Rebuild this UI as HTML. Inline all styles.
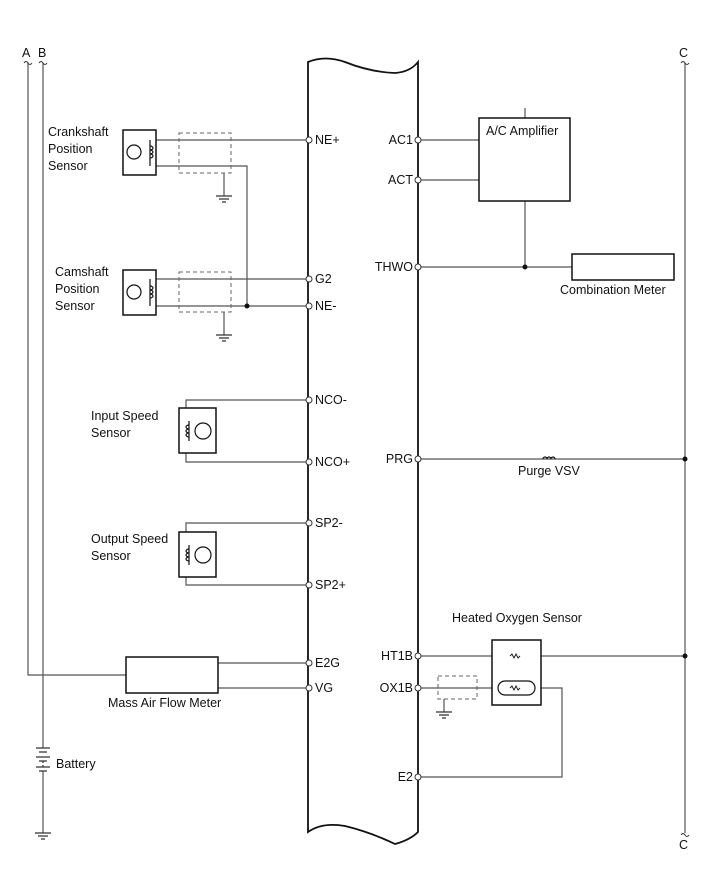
<!DOCTYPE html>
<html><head><meta charset="utf-8"><style>
html,body{margin:0;padding:0;background:#fff;}
svg{display:block;}
text{font-family:"Liberation Sans",Arial,sans-serif;font-size:12.5px;fill:#111;}
</style></head><body>
<svg width="719" height="882" viewBox="0 0 719 882" xmlns="http://www.w3.org/2000/svg">
<g fill="none" stroke="#555" stroke-width="1.2">
<path d="M28 63 V675 H126"/>
<path d="M43 63 V748"/>
<path d="M43 771 V833"/>
<path d="M685 63 V833"/>
<path d="M150 140 H306"/>
<path d="M150 166 H247 V306"/>
<path d="M224 173 V196"/>
<path d="M150 279 H306"/>
<path d="M150 306 H306"/>
<path d="M224 312 V335"/>
<path d="M306 400 H186 V462 H306"/>
<path d="M306 523 H186 V585 H306"/>
<path d="M218 663 H306"/>
<path d="M218 688 H306"/>
<path d="M421 140 H479"/>
<path d="M421 180 H479"/>
<path d="M525 108 V118"/>
<path d="M525 201 V267"/>
<path d="M421 267 H572"/>
<path d="M421 459 H685"/>
<path d="M421 656 H685"/>
<path d="M421 688 H562 V777 H421"/>
<path d="M444 699 V712"/>
</g>
<g fill="none" stroke="#666" stroke-width="1" stroke-dasharray="4,3">
<rect x="179" y="133" width="52" height="40"/>
<rect x="179" y="272" width="52" height="40"/>
<rect x="438" y="676" width="39" height="23"/>
</g>
<g stroke="#333" stroke-width="1.2">
<path d="M216 196 H232 M219 199 H229 M222 202 H226"/>
<path d="M216 335 H232 M219 338 H229 M222 341 H226"/>
<path d="M436 712 H452 M439 715 H449 M442 718 H446"/>
<path d="M35 833 H51 M38 836 H48 M41 839 H45"/>
<path d="M36 748 H50 M39 752 H47 M36 757 H50 M39 761 H47 M36 767 H50 M39 771 H47"/>
<path d="M43 761 V767" stroke-dasharray="2,2"/>
</g>
<path d="M308 62 V832 Q322 822 345 826 Q370 832 395 844 Q410 840 418 832 V62 Q410 72 395 73 Q370 72 345 62 Q325 55 308 62 Z" fill="none" stroke="#111" stroke-width="1.8"/>
<g fill="#fff" stroke="#111" stroke-width="1.5">
<rect x="123" y="130" width="33" height="45"/>
<rect x="123" y="270" width="33" height="45"/>
<rect x="179" y="408" width="37" height="45"/>
<rect x="179" y="532" width="37" height="45"/>
<rect x="126" y="657" width="92" height="36"/>
<rect x="479" y="118" width="91" height="83"/>
<rect x="572" y="254" width="102" height="26"/>
<rect x="492" y="640" width="49" height="65"/>
</g>
<g fill="none" stroke="#111" stroke-width="1.2">
<circle cx="134" cy="152" r="7"/><path d="M150 140 V166"/><path d="M150 146 a3 2 0 0 1 0 4 a3 2 0 0 1 0 4 a3 2 0 0 1 0 4"/>
<circle cx="134" cy="292" r="7"/><path d="M150 279 V306"/><path d="M150 286 a3 2 0 0 1 0 4 a3 2 0 0 1 0 4 a3 2 0 0 1 0 4"/>
<circle cx="203" cy="431" r="8"/><path d="M189 421 V441"/><path d="M189 425 a3 2 0 0 0 0 4 a3 2 0 0 0 0 4 a3 2 0 0 0 0 4"/>
<circle cx="203" cy="555" r="8"/><path d="M189 545 V565"/><path d="M189 549 a3 2 0 0 0 0 4 a3 2 0 0 0 0 4 a3 2 0 0 0 0 4"/>
<path d="M543 459 a2 2 0 0 1 4 0 a2 2 0 0 1 4 0 a2 2 0 0 1 4 0"/>
<rect x="498" y="681" width="37" height="14" rx="7" fill="#fff"/>
<path d="M510 656 l2 -2 l2 4 l2 -4 l2 4 l2 -2" stroke-width="0.9"/>
<path d="M510 688 l2 -2 l2 4 l2 -4 l2 4 l2 -2" stroke-width="0.9"/>
</g>
<g fill="#111"><circle cx="247" cy="306" r="2.5"/><circle cx="525" cy="267" r="2.5"/><circle cx="685" cy="459" r="2.5"/><circle cx="685" cy="656" r="2.5"/></g>
<g fill="#fff" stroke="#333" stroke-width="1">
<circle cx="309" cy="140" r="3"/><circle cx="309" cy="279" r="3"/><circle cx="309" cy="306" r="3"/>
<circle cx="309" cy="400" r="3"/><circle cx="309" cy="462" r="3"/><circle cx="309" cy="523" r="3"/><circle cx="309" cy="585" r="3"/>
<circle cx="309" cy="663" r="3"/><circle cx="309" cy="688" r="3"/>
<circle cx="418" cy="140" r="3"/><circle cx="418" cy="180" r="3"/><circle cx="418" cy="267" r="3"/><circle cx="418" cy="459" r="3"/>
<circle cx="418" cy="656" r="3"/><circle cx="418" cy="688" r="3"/><circle cx="418" cy="777" r="3"/>
</g>
<g fill="none" stroke="#333" stroke-width="1">
<path d="M24 63 q2 -3 4 0 q2 3 4 0"/><path d="M39 63 q2 -3 4 0 q2 3 4 0"/><path d="M681 63 q2 -3 4 0 q2 3 4 0"/><path d="M681 835 q2 -3 4 0 q2 3 4 0"/>
</g>
<text x="22" y="57">A</text><text x="38" y="57">B</text><text x="679" y="57">C</text><text x="679" y="849">C</text>
<text x="48" y="136">Crankshaft</text><text x="48" y="153">Position</text><text x="48" y="170">Sensor</text>
<text x="55" y="276">Camshaft</text><text x="55" y="293">Position</text><text x="55" y="310">Sensor</text>
<text x="91" y="420">Input Speed</text><text x="91" y="437">Sensor</text>
<text x="91" y="543">Output Speed</text><text x="91" y="560">Sensor</text>
<text x="108" y="707">Mass Air Flow Meter</text>
<text x="56" y="768">Battery</text>
<text x="315" y="144">NE+</text><text x="315" y="283">G2</text><text x="315" y="310">NE-</text>
<text x="315" y="404">NCO-</text><text x="315" y="466">NCO+</text><text x="315" y="527">SP2-</text><text x="315" y="589">SP2+</text>
<text x="315" y="667">E2G</text><text x="315" y="692">VG</text>
<text x="413" y="144" text-anchor="end">AC1</text><text x="413" y="184" text-anchor="end">ACT</text>
<text x="413" y="271" text-anchor="end">THWO</text><text x="413" y="463" text-anchor="end">PRG</text>
<text x="413" y="660" text-anchor="end">HT1B</text><text x="413" y="692" text-anchor="end">OX1B</text><text x="413" y="781" text-anchor="end">E2</text>
<text x="486" y="135">A/C Amplifier</text>
<text x="560" y="294">Combination Meter</text>
<text x="518" y="475">Purge VSV</text>
<text x="452" y="622">Heated Oxygen Sensor</text>
</svg>
</body></html>
